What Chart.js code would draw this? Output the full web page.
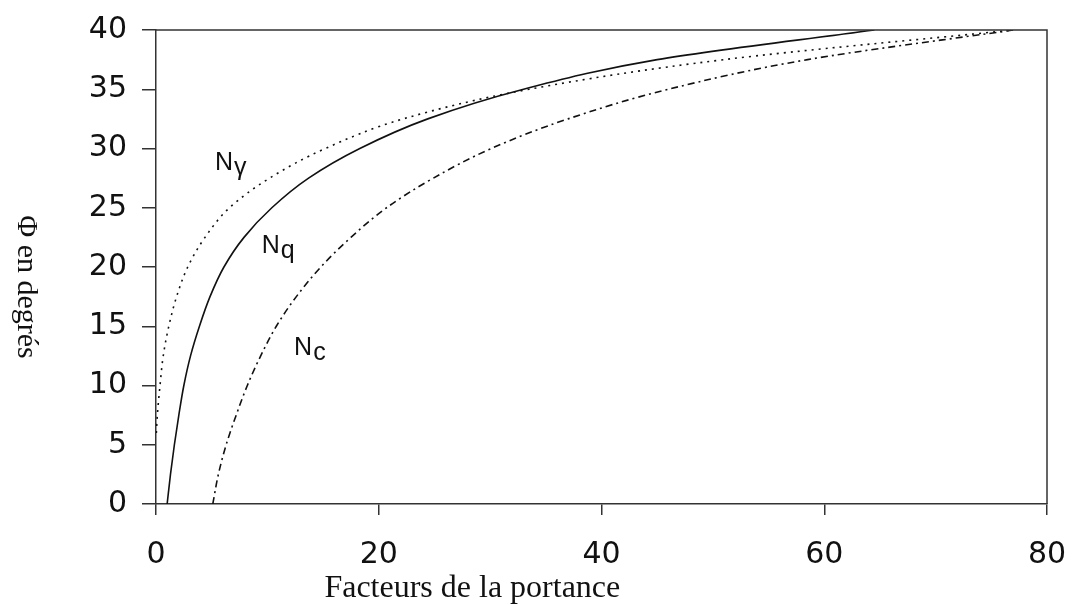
<!DOCTYPE html>
<html>
<head>
<meta charset="utf-8">
<script src="https://cdn.jsdelivr.net/npm/chart.js@4"></script>
<style>
  html, body { margin: 0; padding: 0; background: #fff; }
  #wrap { width: 1072px; height: 605px; }
</style>
</head>
<body>
<div id="wrap"><canvas id="factorsChart"></canvas></div>
<script>
// friction angle (deg) vs bearing capacity factor
const phiNq = [0, 2.5, 5, 7.5, 10, 12.5, 15, 17.5, 20, 22.5, 25, 27.5, 30, 32.5, 35, 37.5, 40];
const valNq = [1.0, 1.3, 1.65, 2.05, 2.5, 3.1, 3.9, 4.85, 6.1, 7.9, 10.4, 13.7, 18.3, 24.4, 33.0, 45.0, 64.5];

const phiNg = [6, 7.5, 10, 12.5, 15, 17.5, 20, 22.5, 25, 27.5, 30, 32.5, 35, 37.5, 40];
const valNg = [0.03, 0.12, 0.36, 0.65, 1.15, 1.85, 2.85, 4.4, 6.6, 10.2, 15.2, 22.2, 33.5, 51.0, 77.0];

const phiNc = [0, 2.5, 5, 7.5, 10, 12.5, 15, 17.5, 20, 22.5, 25, 27.5, 30, 32.5, 35, 37.5, 40];
const valNc = [5.1, 5.6, 6.3, 7.2, 8.2, 9.4, 10.8, 12.6, 14.8, 17.5, 20.7, 24.9, 30.1, 37.0, 46.0, 58.5, 77.0];

const xTicks = [0, 20, 40, 60, 80];
const yTicks = [0, 5, 10, 15, 20, 25, 30, 35, 40];

const curveLabels = [
  { main: 'N', sub: 'γ', x: 5.3, y: 28.2 },
  { main: 'N', sub: 'q', x: 9.5, y: 21.2 },
  { main: 'N', sub: 'c', x: 12.4, y: 12.6 }
];

function toPoints(xs, ys) {
  return xs.map((v, i) => ({ x: v, y: ys[i] }));
}

const INK = '#111';
const AXIS = '#333';
const TICK_FONT = '"DejaVu Sans", sans-serif';

const decorations = {
  id: 'decorations',
  afterDraw(chart) {
    const ctx = chart.ctx;
    const a = chart.chartArea;
    const sx = chart.scales.x, sy = chart.scales.y;
    ctx.save();
    // top and right edges of the frame
    ctx.strokeStyle = AXIS;
    ctx.lineWidth = 1.5;
    ctx.beginPath();
    ctx.moveTo(a.left, a.top);
    ctx.lineTo(a.right, a.top);
    ctx.lineTo(a.right, a.bottom);
    ctx.stroke();

    // curve names
    ctx.fillStyle = INK;
    ctx.font = '25px "Liberation Sans", Arial, sans-serif';
    ctx.textBaseline = 'alphabetic';
    ctx.textAlign = 'left';
    curveLabels.forEach(l => {
      const px = sx.getPixelForValue(l.x);
      const py = sy.getPixelForValue(l.y);
      ctx.fillText(l.main, px, py);
      const w = ctx.measureText(l.main).width;
      ctx.fillText(l.sub, px + w + 1, py + 5);
    });

    // axis titles
    ctx.font = '32px "Liberation Serif", "Times New Roman", serif';
    ctx.textAlign = 'center';
    ctx.fillText('Facteurs de la portance', a.left + 0.355 * (a.right - a.left), 597);

    ctx.font = '30px "Liberation Serif", "Times New Roman", serif';
    ctx.translate(26, 287);
    ctx.rotate(Math.PI / 2);
    ctx.textBaseline = 'middle';
    ctx.fillText('Φ en degrés', 0, 0);
    ctx.restore();
  }
};

const ctx = document.getElementById('factorsChart').getContext('2d');
new Chart(ctx, {
  type: 'line',
  data: {
    datasets: [
      {
        label: 'Nq',
        data: toPoints(valNq, phiNq),
        borderColor: INK,
        borderWidth: 1.6,
        pointRadius: 0,
        cubicInterpolationMode: 'monotone'
      },
      {
        label: 'Nγ',
        data: toPoints(valNg, phiNg),
        borderColor: INK,
        borderWidth: 1.6,
        borderDash: [2, 5],
        pointRadius: 0,
        cubicInterpolationMode: 'monotone'
      },
      {
        label: 'Nc',
        data: toPoints(valNc, phiNc),
        borderColor: INK,
        borderWidth: 1.6,
        borderDash: [7, 4, 2, 4],
        pointRadius: 0,
        cubicInterpolationMode: 'monotone'
      }
    ]
  },
  options: {
    indexAxis: 'y',
    responsive: true,
    maintainAspectRatio: false,
    animation: false,
    layout: { padding: { top: 30, right: 25, left: 0, bottom: 0 } },
    scales: {
      x: {
        type: 'linear',
        min: 0,
        max: 80,
        afterFit(scale) {
          scale.height = 101;
          scale.paddingLeft = 0;
          scale.paddingRight = 0;
        },
        afterBuildTicks(scale) { scale.ticks = xTicks.map(v => ({ value: v })); },
        border: { display: true, color: AXIS, width: 1.5 },
        grid: { drawOnChartArea: false, drawTicks: true, tickLength: 11, color: AXIS, lineWidth: 1.5 },
        ticks: {
          padding: 22,
          color: INK,
          maxRotation: 0,
          font: { family: TICK_FONT, size: 30 }
        }
      },
      y: {
        type: 'linear',
        min: 0,
        max: 40,
        afterFit(scale) {
          scale.width = 156;
          scale.paddingTop = 0;
          scale.paddingBottom = 0;
        },
        afterBuildTicks(scale) { scale.ticks = yTicks.map(v => ({ value: v })); },
        border: { display: true, color: AXIS, width: 1.5 },
        grid: { drawOnChartArea: false, drawTicks: true, tickLength: 14, color: AXIS, lineWidth: 1.5 },
        ticks: {
          padding: 15,
          color: INK,
          font: { family: TICK_FONT, size: 30 }
        }
      }
    },
    plugins: {
      legend: { display: false },
      tooltip: { enabled: false }
    }
  },
  plugins: [decorations]
});
</script>
</body>
</html>
